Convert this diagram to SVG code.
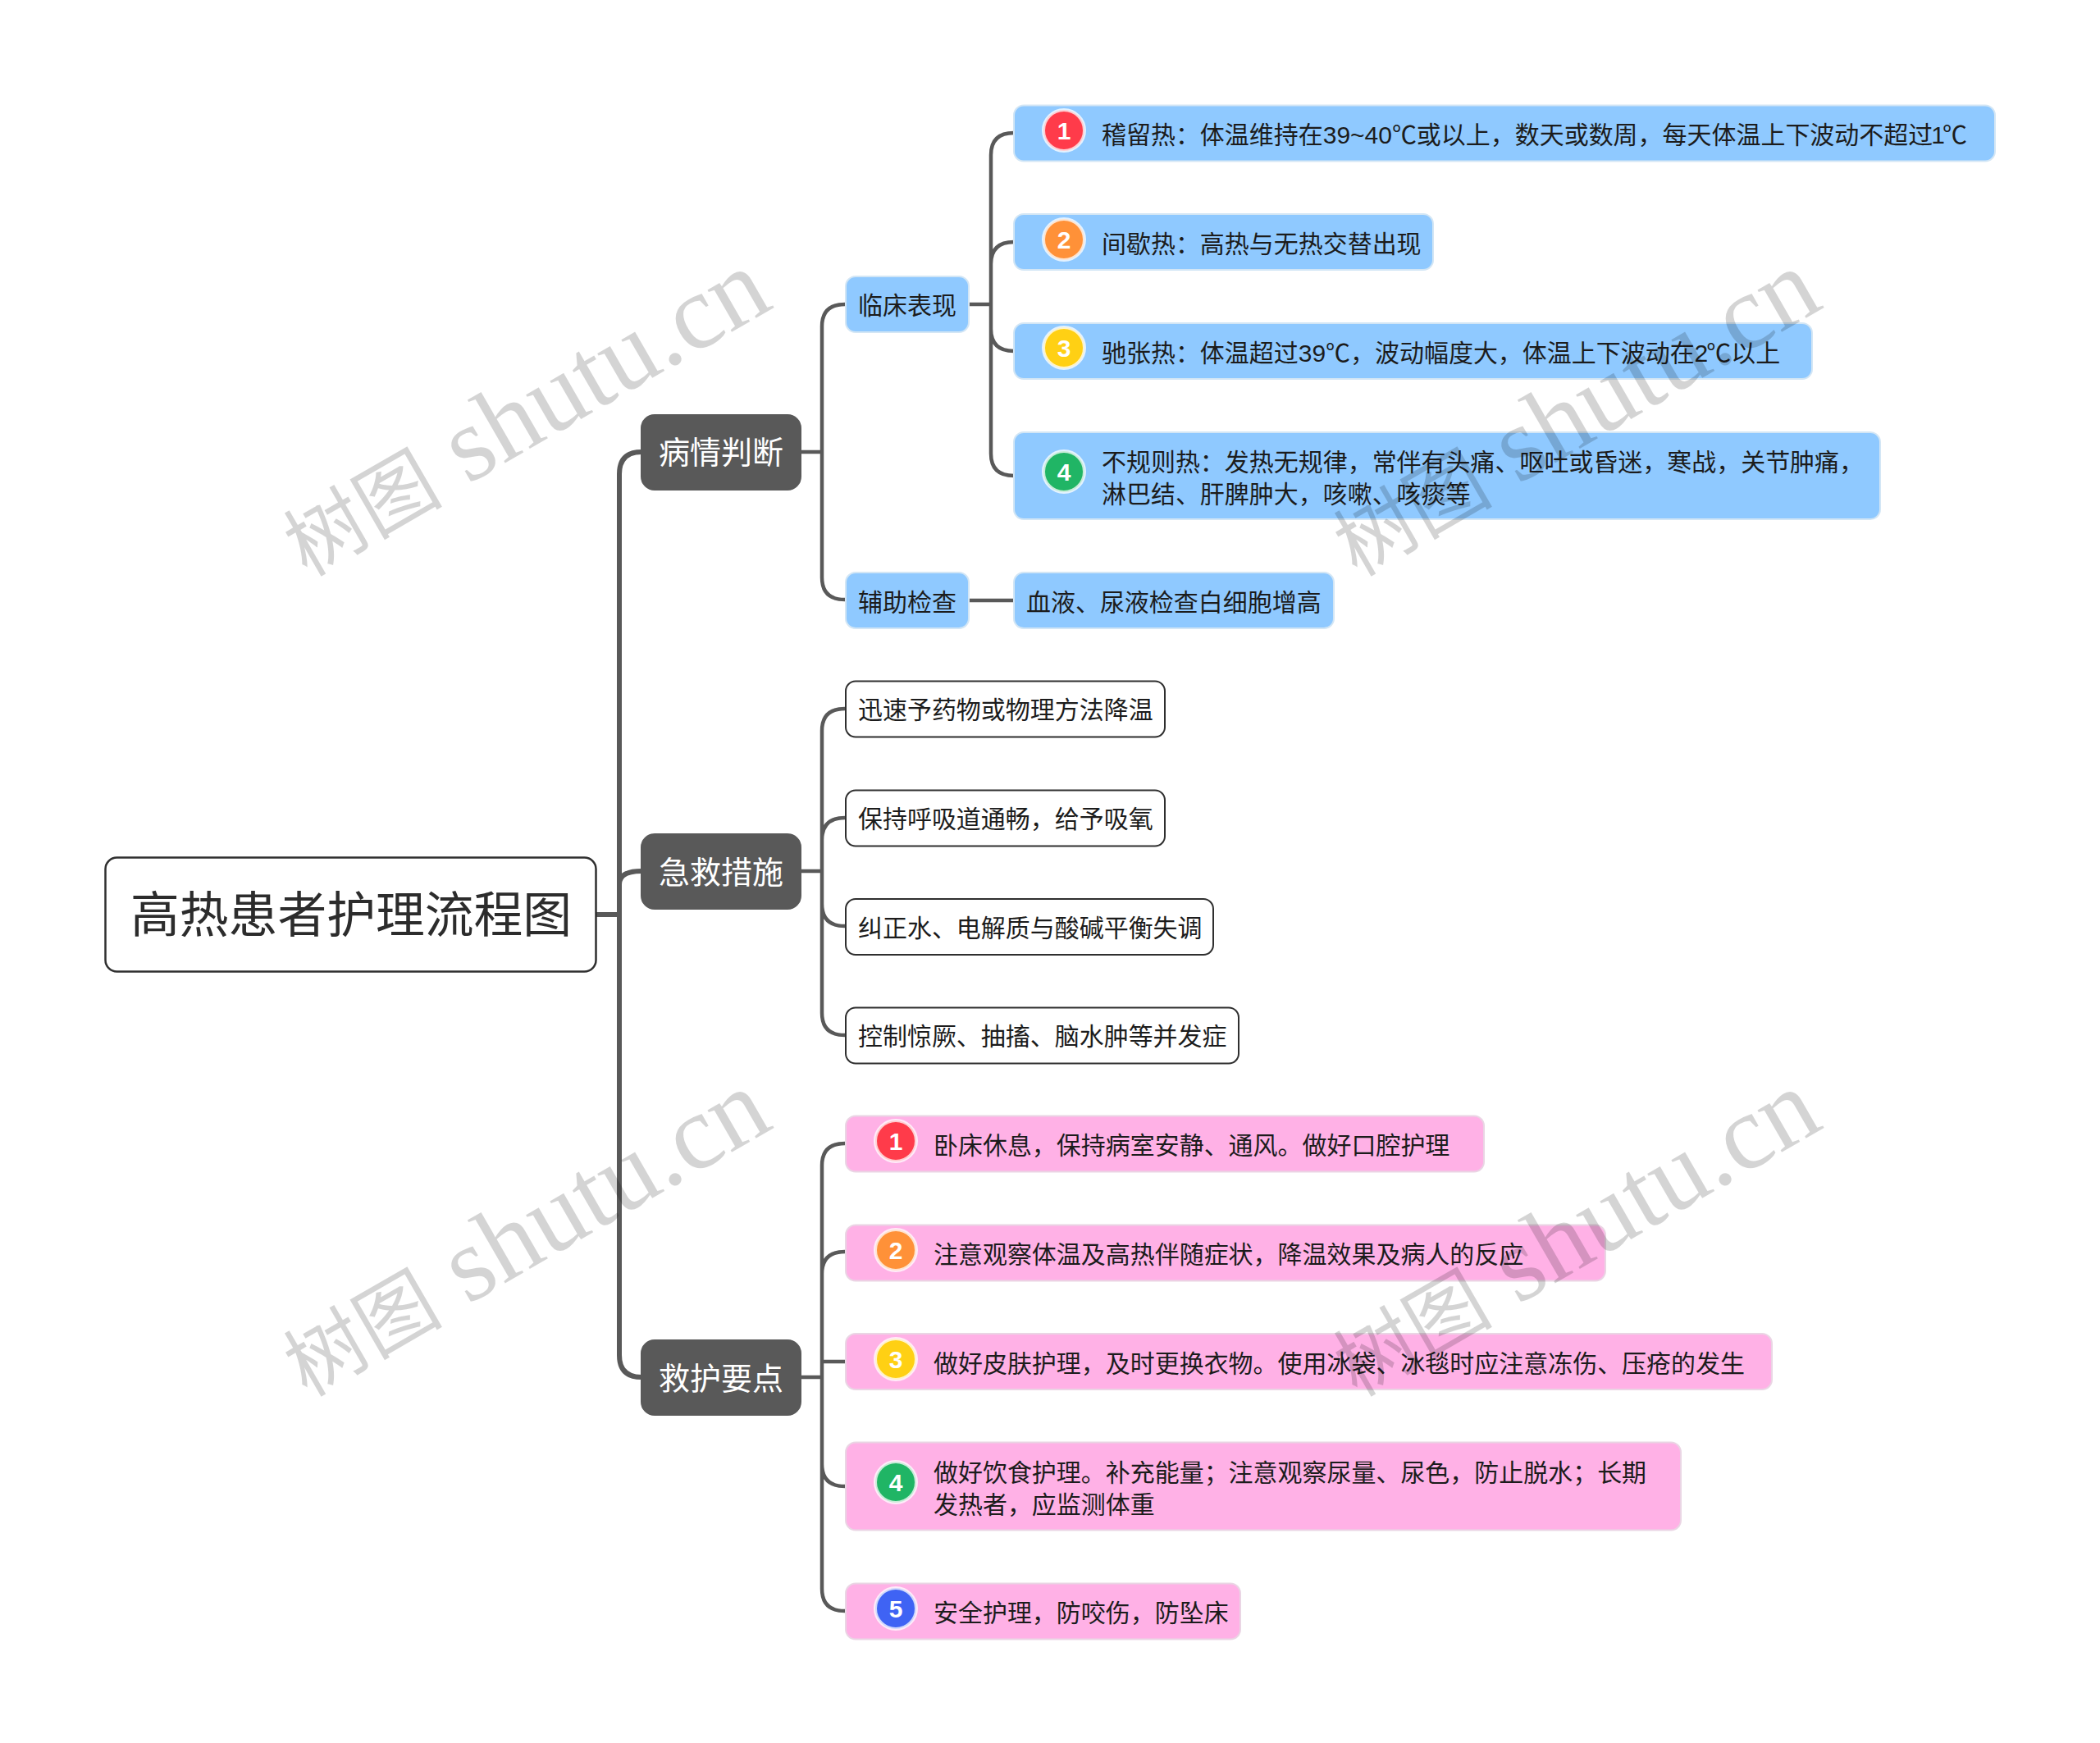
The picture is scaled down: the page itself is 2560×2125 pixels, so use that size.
<svg xmlns="http://www.w3.org/2000/svg" width="2560" height="2125" viewBox="0 0 2560 2125">
<style>
text{font-family:"Liberation Sans","Noto Sans CJK SC",sans-serif;fill:#1c1c1c;font-size:29.970px}
.c,.c tspan{font-family:"Noto Sans CJK SC","Liberation Sans",sans-serif}
.blue{fill:#8fc9ff;stroke:#d3e6f5;stroke-width:2}
.pink{fill:#ffb1e6;stroke:#ead5e4;stroke-width:2}
.white{fill:#fff;stroke:#2f2f2f;stroke-width:2}
.dark{fill:#595959;stroke:#595959;stroke-width:2}
.root{fill:#fff;stroke:#2f2f2f;stroke-width:2.5}
.bt{fill:#fff;font-size:38px;text-anchor:middle}
.ring{stroke:#fff;stroke-opacity:.75;stroke-width:4}
.num{fill:#fff;font-size:30px;font-weight:bold;text-anchor:middle}
.l{fill:none;stroke:#595959;stroke-width:4.5}
.t{fill:none;stroke:#595959;stroke-width:6}
.wm text{font-family:"Liberation Serif",serif;font-size:129px;fill:#000;fill-opacity:.17}
.wm .h{font-family:"Noto Sans CJK SC",sans-serif;font-size:97px}
</style>
<g id="connectors">
<path class="t" d="M727 1115H755M782 551Q755 551 755 578V1652Q755 1679 782 1679M755 1078Q755 1062 782 1062"/>
<path class="l" d="M976 551H1002M1030 371Q1002 371 1002 398V704Q1002 731 1030 731"/>
<path class="l" d="M976 1062H1002M1030 864Q1002 864 1002 891V1235Q1002 1262 1030 1262M1030 997Q1002 997 1002 1024V1102Q1002 1129 1030 1129"/>
<path class="l" d="M976 1679H1002M1030 1394Q1002 1394 1002 1421V1937Q1002 1964 1030 1964M1030 1526Q1002 1526 1002 1553V1785Q1002 1812 1030 1812M1002 1660H1030"/>
<path class="l" d="M1181 371H1208M1236 162Q1208 162 1208 189V553Q1208 580 1236 580M1236 295Q1208 295 1208 322V401Q1208 428 1236 428M1181 732H1236"/>
</g>
<g id="root"><rect class="root" x="128.500" y="1045.500" width="598" height="139" rx="14"/><text class="c" x="159" y="1137" style="font-size:59.800px;fill:#2c2c2c">高热患者护理流程图</text></g>
<g id="b1"><rect class="dark" x="782" y="506" width="194" height="91" rx="16"/><text class="bt c" x="879" y="565">病情判断</text></g>
<g id="b2"><rect class="dark" x="782" y="1017" width="194" height="91" rx="16"/><text class="bt c" x="879" y="1077">急救措施</text></g>
<g id="b3"><rect class="dark" x="782" y="1634" width="194" height="91" rx="16"/><text class="bt c" x="879" y="1694">救护要点</text></g>
<g id="n1"><rect class="blue" x="1031" y="337" width="150" height="68" rx="12"/><text x="1046" y="383">临床表现</text></g>
<g id="n2"><rect class="blue" x="1031" y="698" width="150" height="68" rx="12"/><text x="1046" y="745">辅助检查</text></g>
<g id="n1a"><rect class="blue" x="1236" y="128.500" width="1196" height="68" rx="12"/><circle class="ring" cx="1297" cy="159" r="25" fill="#ff3b4a"/><text class="num" x="1297" y="170">1</text><text x="1343" y="175">稽留热：体温维持在39~40<tspan class="c">℃</tspan>或以上，数天或数周，每天体温上下波动不超过<tspan dx="-2">1</tspan><tspan class="c" dx="-3">℃</tspan></text></g>
<g id="n1b"><rect class="blue" x="1236" y="261" width="511" height="68" rx="12"/><circle class="ring" cx="1297" cy="292" r="25" fill="#ff9138"/><text class="num" x="1297" y="303">2</text><text x="1343" y="308">间歇热：高热与无热交替出现</text></g>
<g id="n1c"><rect class="blue" x="1236" y="394" width="973" height="68" rx="12"/><circle class="ring" cx="1297" cy="424" r="25" fill="#ffd014"/><text class="num" x="1297" y="435">3</text><text x="1343" y="441">驰张热：体温超过39<tspan class="c">℃</tspan>，波动幅度大，体温上下波动在2<tspan class="c" dx="-2">℃</tspan>以上</text></g>
<g id="n1d"><rect class="blue" x="1236" y="527" width="1056" height="106" rx="12"/><circle class="ring" cx="1297" cy="575" r="25" fill="#20b565"/><text class="num" x="1297" y="586">4</text><text x="1343" y="574">不规则热：发热无规律，常伴有头痛、呕吐或昏迷，寒战，关节肿痛，</text><text x="1343" y="613">淋巴结、肝脾肿大，咳嗽、咳痰等</text></g>
<g id="n2a"><rect class="blue" x="1236" y="698" width="390" height="68" rx="12"/><text x="1251" y="745">血液、尿液检查白细胞增高</text></g>
<g id="e1"><rect class="white" x="1031" y="830.500" width="389" height="68" rx="12"/><text x="1046" y="876">迅速予药物或物理方法降温</text></g>
<g id="e2"><rect class="white" x="1031" y="963.500" width="389" height="68" rx="12"/><text x="1046" y="1009">保持呼吸道通畅，给予吸氧</text></g>
<g id="e3"><rect class="white" x="1031" y="1096" width="448" height="68" rx="12"/><text x="1046" y="1142">纠正水、电解质与酸碱平衡失调</text></g>
<g id="e4"><rect class="white" x="1031" y="1228.500" width="479" height="68" rx="12"/><text x="1046" y="1274">控制惊厥、抽搐、脑水肿等并发症</text></g>
<g id="r1"><rect class="pink" x="1031" y="1360.500" width="778" height="68" rx="12"/><circle class="ring" cx="1092" cy="1391" r="25" fill="#ff3b4a"/><text class="num" x="1092" y="1402">1</text><text x="1138" y="1407">卧床休息，保持病室安静、通风。做好口腔护理</text></g>
<g id="r2"><rect class="pink" x="1031" y="1493.500" width="926" height="68" rx="12"/><circle class="ring" cx="1092" cy="1524" r="25" fill="#ff9138"/><text class="num" x="1092" y="1535">2</text><text x="1138" y="1540">注意观察体温及高热伴随症状，降温效果及病人的反应</text></g>
<g id="r3"><rect class="pink" x="1031" y="1626" width="1129" height="68" rx="12"/><circle class="ring" cx="1092" cy="1657" r="25" fill="#ffd014"/><text class="num" x="1092" y="1668">3</text><text x="1138" y="1673">做好皮肤护理，及时更换衣物。使用冰袋、冰毯时应注意冻伤、压疮的发生</text></g>
<g id="r4"><rect class="pink" x="1031" y="1758.500" width="1018" height="107" rx="12"/><circle class="ring" cx="1092" cy="1807" r="25" fill="#20b565"/><text class="num" x="1092" y="1818">4</text><text x="1138" y="1806">做好饮食护理。补充能量；注意观察尿量、尿色，防止脱水；长期</text><text x="1138" y="1845">发热者，应监测体重</text></g>
<g id="r5"><rect class="pink" x="1031" y="1930.500" width="481" height="68" rx="12"/><circle class="ring" cx="1092" cy="1961" r="25" fill="#3f63f4"/><text class="num" x="1092" y="1972">5</text><text x="1138" y="1977">安全护理，防咬伤，防坠床</text></g>
<g class="wm">
<text transform="translate(374 704) rotate(-30)"><tspan class="h">树图</tspan> shutu.cn</text>
<text transform="translate(1654 704) rotate(-30)"><tspan class="h">树图</tspan> shutu.cn</text>
<text transform="translate(374 1704) rotate(-30)"><tspan class="h">树图</tspan> shutu.cn</text>
<text transform="translate(1654 1704) rotate(-30)"><tspan class="h">树图</tspan> shutu.cn</text>
</g>
</svg>
